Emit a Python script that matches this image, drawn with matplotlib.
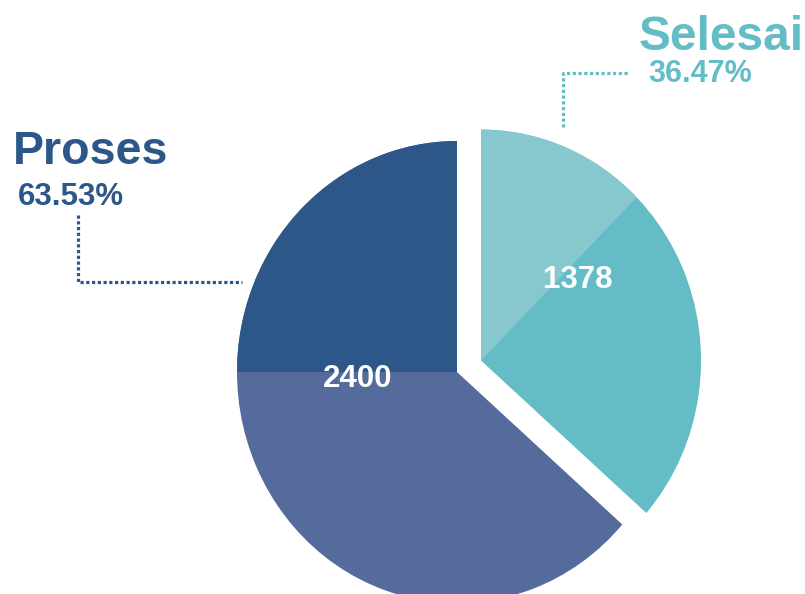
import matplotlib.pyplot as plt
from matplotlib.patches import Wedge

labels = ["Proses", "Selesai"]
values = [2400, 1378]
percents = ["63.53%", "36.47%"]

proses_dark = "#2c5788"
proses_light = "#546b9b"
selesai_light = "#86c8ce"
selesai_main = "#64bdc6"

plt.rcParams['font.family'] = ['Liberation Sans', 'DejaVu Sans']

W, H = 805, 594
fig = plt.figure(figsize=(W / 100, H / 100), dpi=100)
ax = fig.add_axes([0, 0, 1, 1])

wedges, _ = ax.pie(values, startangle=90, counterclock=True, explode=[0, 0.12],
                   colors=[proses_light, selesai_main], radius=1, center=(0, 0),
                   wedgeprops=dict(linewidth=0))

# two-tone shading on each slice
ax.add_patch(Wedge(wedges[0].center, 1, 90, 180, color=proses_dark, lw=0))
ax.add_patch(Wedge(wedges[1].center, 1, 45, 90, color=selesai_light, lw=0))

# pie is a little taller than wide in the reference
cx, cy, rx, ry = 457, 372, 220, 231
ax.set_aspect('auto')
ax.set_xlim(-cx / rx, (W - cx) / rx)
ax.set_ylim(-(H - cy) / ry, cy / ry)
ax.axis('off')


def px(x, y):
    return x / W, 1 - y / H


def text_px(x, y, s, **kw):
    ax.text(*px(x, y), s, transform=ax.transAxes, fontweight='bold', **kw)


text_px(13, 164, labels[0], fontsize=33.5, color=proses_dark, ha='left', va='baseline')
text_px(18, 205, percents[0], fontsize=22.5, color=proses_dark, ha='left', va='baseline')
text_px(804, 50, labels[1], fontsize=34.5, color=selesai_main, ha='right', va='baseline')
text_px(648, 82, percents[1], fontsize=22, color=selesai_main, ha='left', va='baseline')

text_px(358, 387, str(values[0]), fontsize=22.5, color='white', ha='center', va='baseline')
text_px(578, 288, str(values[1]), fontsize=22.5, color='white', ha='center', va='baseline')

# dotted leader lines
dots = dict(lw=2.3, linestyle=(0, (1, 0.8)), transform=ax.transAxes, clip_on=False)
ax.plot(*zip(px(78, 215), px(78, 282), px(242, 282)), color=proses_dark, **dots)
ax.plot(*zip(px(563, 127), px(563, 73), px(629, 73)), color=selesai_main, **dots)

fig.savefig("out.png", dpi=100)
